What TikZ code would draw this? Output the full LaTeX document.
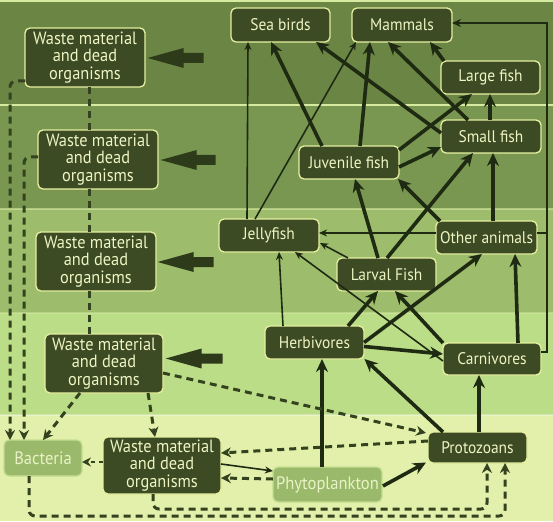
\documentclass[tikz,border=0pt]{standalone}
\usepackage{fontspec}
\setmainfont{PT Sans}[FakeStretch=0.92]
\usetikzlibrary{arrows.meta,calc}
\definecolor{bandA}{HTML}{6B8545}
\definecolor{bandB}{HTML}{7A9752}
\definecolor{bandC}{HTML}{9DBD6C}
\definecolor{bandD}{HTML}{BCDD88}
\definecolor{bandE}{HTML}{E2F0AB}
\definecolor{sepline}{HTML}{D6EAA0}
\definecolor{boxfill}{HTML}{3C4B24}
\definecolor{boxline}{HTML}{E6F0A0}
\definecolor{boxtext}{HTML}{EEF4C2}
\definecolor{lightfill}{HTML}{9BB96A}
\definecolor{lightline}{HTML}{C4DE90}
\definecolor{lighttext}{HTML}{E8F2C6}
\definecolor{ink}{HTML}{1F2A12}
\definecolor{dashink}{HTML}{34421F}
\definecolor{blockc}{HTML}{2E3B1A}
\tikzset{
  box/.style={draw=boxline, fill=boxfill, text=boxtext, rounded corners=5pt,
    line width=1.3pt, inner sep=0pt, align=center,
    font=\fontsize{16.8}{16}\selectfont},
  wastebox/.style={box, font=\fontsize{17.8}{17.6}\selectfont},
  lightbox/.style={box, fill=lightfill, draw=lightline, text=lighttext,
    font=\fontsize{18}{16}\selectfont},
  fw/.style={draw=ink, line width=3.6pt, -{Stealth[length=13pt,width=12pt]}},
  fwthin/.style={draw=ink, line width=1.6pt, -{Stealth[length=8pt,width=7pt]}},
  dsh/.style={draw=dashink, line width=3pt, dash pattern=on 7pt off 5pt,
    rounded corners=6pt, -{Stealth[length=10pt,width=10pt]}},
  dshplain/.style={draw=dashink, line width=3pt, dash pattern=on 7pt off 5pt},
  dshsmall/.style={draw=dashink, line width=2.2pt, dash pattern=on 4pt off 4pt,
    -{Stealth[length=9pt,width=9pt]}},
  bracketln/.style={draw=ink, line width=2.8pt},
  blk/.style={fill=blockc}
}
\begin{document}
\begin{tikzpicture}[x=1pt,y=-1pt]
\useasboundingbox (0,0) rectangle (553,521);
% bands
\fill[bandA] (0,0) rectangle (553,105);
\fill[bandB] (0,105) rectangle (553,209);
\fill[bandC] (0,209) rectangle (553,313);
\fill[bandD] (0,313) rectangle (553,415);
\fill[bandE] (0,415) rectangle (553,521);
\draw[sepline, line width=2pt] (0,1) -- (553,1);
\draw[sepline, line width=1.6pt] (0,105) -- (553,105);
\draw[sepline, line width=1.2pt, opacity=0.6] (0,209) -- (553,209);
\draw[sepline, line width=1.2pt, opacity=0.5] (0,313) -- (553,313);
\draw[white, line width=1.2pt, opacity=0.3] (0,415) -- (553,415);

% nodes
\node[box, minimum width=99pt, minimum height=34pt] (sea) at (280.5,25) {Sea birds};
\node[box, minimum width=100pt, minimum height=34pt] (mam) at (402,25) {Mammals};
\node[box, minimum width=99pt, minimum height=33pt] (lar) at (490.5,77.5) {Large fish};
\node[box, minimum width=100pt, minimum height=33pt] (sma) at (491,136.5) {Small fish};
\node[box, minimum width=100pt, minimum height=33pt] (juv) at (349,162.5) {Juvenile fish};
\node[box, minimum width=100pt, minimum height=33pt] (jel) at (269,235.5) {Jellyfish};
\node[box, minimum width=101pt, minimum height=33pt] (oth) at (486.5,237.5) {Other animals};
\node[box, minimum width=99pt, minimum height=33pt] (lrv) at (386.5,274.5) {Larval Fish};
\node[box, minimum width=99pt, minimum height=33pt] (her) at (314.5,342.5) {Herbivores};
\node[box, minimum width=98pt, minimum height=32pt] (car) at (492,359) {Carnivores};
\node[box, minimum width=99pt, minimum height=31pt] (pro) at (477.5,447.5) {Protozoans};
\node[lightbox, minimum width=109pt, minimum height=35pt] (phy) at (327.5,484.5) {Phytoplankton};
\node[lightbox, minimum width=78pt, minimum height=36pt] (bac) at (43,458) {Bacteria};
\node[wastebox, minimum width=120pt, minimum height=59pt] (w1) at (85,57.5) {Waste material\\and dead\\organisms};
\node[wastebox, minimum width=120pt, minimum height=59pt] (w2) at (98,159.5) {Waste material\\and dead\\organisms};
\node[wastebox, minimum width=120pt, minimum height=59pt] (w3) at (96,261.5) {Waste material\\and dead\\organisms};
\node[wastebox, minimum width=118pt, minimum height=59pt] (w4) at (104,363.5) {Waste material\\and dead\\organisms};
\node[wastebox, minimum width=118pt, minimum height=57pt] (w5) at (162,465.5) {Waste material\\and dead\\organisms};

% block arrows into waste boxes
\fill[blk] ($(w1.east)+(2,0.5)$) -- ++(36,-10) -- ++(0,5) -- ++(20,0) -- ++(0,10) -- ++(-20,0) -- ++(0,5) -- cycle;
\fill[blk] ($(w2.east)+(2,0.5)$) -- ++(36,-10) -- ++(0,5) -- ++(19,0) -- ++(0,10) -- ++(-19,0) -- ++(0,5) -- cycle;
\fill[blk] ($(w3.east)+(1,0.5)$) -- ++(36,-10) -- ++(0,5) -- ++(20,0) -- ++(0,10) -- ++(-20,0) -- ++(0,5) -- cycle;
\fill[blk] ($(w4.east)+(2,-5)$) -- ++(36,-10) -- ++(0,5) -- ++(21,0) -- ++(0,10) -- ++(-21,0) -- ++(0,5) -- cycle;

% solid thick/thin arrows
\draw[fw] ($(phy)+(-5.5,-17.5)$) -- ($(her)+(7.5,16.5)$);
\draw[fw] ($(phy)+(55.5,1.5)$) -- ($(pro)+(-51.5,15)$);
\draw[fw] ($(pro)+(-34.5,-15.5)$) -- ($(her)+(50,16.5)$);
\draw[fw] ($(pro)+(1.5,-15.5)$) -- ($(car)+(-13,16)$);
\draw[fwthin] ($(her)+(-31.5,-16.5)$) -- ($(jel)+(10,16.5)$);
\draw[fw] ($(her)+(33.5,-16.5)$) -- ($(lrv)+(-8.5,16.5)$);
\draw[fw] ($(her)+(49.5,0)$) -- ($(oth)+(-4.5,16.5)$);
\draw[fw] ($(her)+(49.5,4)$) -- ($(car)+(-49,-5)$);
\draw[fw] ($(car)+(-49,-16)$) -- ($(lrv)+(8.5,16.5)$);
\draw[fwthin] ($(car)+(-49,2)$) -- ($(jel)+(26,16.5)$);
\draw[fw] ($(car)+(26,-16)$) -- ($(oth)+(28.5,16.5)$);
\draw[bracketln, -{Stealth[length=9pt,width=8pt]}] ($(car)+(49,-7)$) -- ++(6,0) |- ($(mam)+(50,-2)$);
\draw[bracketln] ($(oth)+(50.5,-4.5)$) -- ++(10,0);
\draw[fwthin] ($(oth)+(-50.5,-4.5)$) -- ($(jel)+(50,-2.5)$);
\draw[fwthin] ($(lrv)+(-38.5,-16.5)$) -- ($(jel)+(51,7.5)$);
\draw[fw] ($(lrv)+(-8.5,-16.5)$) -- ($(juv)+(6,16.5)$);
\draw[fw] ($(lrv)+(0.5,-16.5)$) -- ($(sma)+(-18,16.5)$);
\draw[fw] ($(oth)+(-46.5,-16.5)$) -- ($(juv)+(49,16.5)$);
\draw[fw] ($(oth)+(6.5,-16.5)$) -- ($(sma)+(2,16.5)$);
\draw[fw] ($(juv)+(50,4.5)$) -- ($(sma)+(-50,10.5)$);
\draw[fw] ($(juv)+(50,-12.5)$) -- ($(lar)+(-18.5,16.5)$);
\draw[fw] ($(juv)+(-27,-16.5)$) -- ($(sea)+(-9.5,17)$);
\draw[fw] ($(juv)+(11,-16.5)$) -- ($(mam)+(-32,17)$);
\draw[fwthin] ($(jel)+(-22,-16.5)$) -- ($(sea)+(-32.5,17)$);
\draw[fwthin] ($(jel)+(-14,-16.5)$) -- ($(mam)+(-46,17)$);
\draw[fw] ($(sma)+(-50,-3.5)$) -- ($(sea)+(35.5,17)$);
\draw[fw] ($(sma)+(-23,-16.5)$) -- ($(mam)+(-14,17)$);
\draw[fw] ($(sma)+(-1,-16.5)$) -- ($(lar)+(-0.5,16.5)$);
\draw[fw] ($(lar)+(-46.5,-16.5)$) -- ($(mam)+(28,17)$);
\draw[fwthin] ($(w5)+(59,-1.5)$) -- ($(phy)+(-54.5,-13.5)$);

% dashed connectors
\draw[dsh] ($(w1)+(-60,23.5)$) -| ($(bac)+(-33,-18)$);
\draw[dsh] ($(w2)+(-60,-2.5)$) -| ($(bac)+(-19,-18)$);
\draw[dshplain] ($(w1)+(4,29.5)$) -- ($(w2)+(-9,-29.5)$);
\draw[dshplain] ($(w2)+(-9,29.5)$) -- ($(w3)+(-7,-29.5)$);
\draw[dshplain] ($(w3)+(-7,29.5)$) -- ($(w4)+(-15,-29.5)$);
\draw[dsh] ($(w4)+(-24,29.5)$) -- ($(bac)+(0,-18)$);
\draw[dsh] ($(w4)+(44,29.5)$) -- ($(w5)+(-7,-28.5)$);
\draw[dsh] ($(w4)+(59,9.5)$) -- ($(pro)+(-51.5,-14.5)$);
\draw[dsh] ($(pro)+(-49.5,-6.5)$) -- ($(w5)+(59,-12.5)$);
\draw[dsh] ($(phy)+(-54.5,-5.5)$) -- ($(w5)+(59,12.5)$);
\draw[dshsmall] ($(w5)+(-59,-3.5)$) -- ($(bac)+(39,4)$);
\draw[dsh] ($(bac)+(-14,18)$) -- ($(bac)+(-14,58)$) -| ($(pro)+(27.5,15.5)$);
\draw[dsh] ($(w5)+(-9,28.5)$) -- ($(w5)+(-9,43.5)$) -| ($(pro)+(9.5,15.5)$);
\end{tikzpicture}
\end{document}
